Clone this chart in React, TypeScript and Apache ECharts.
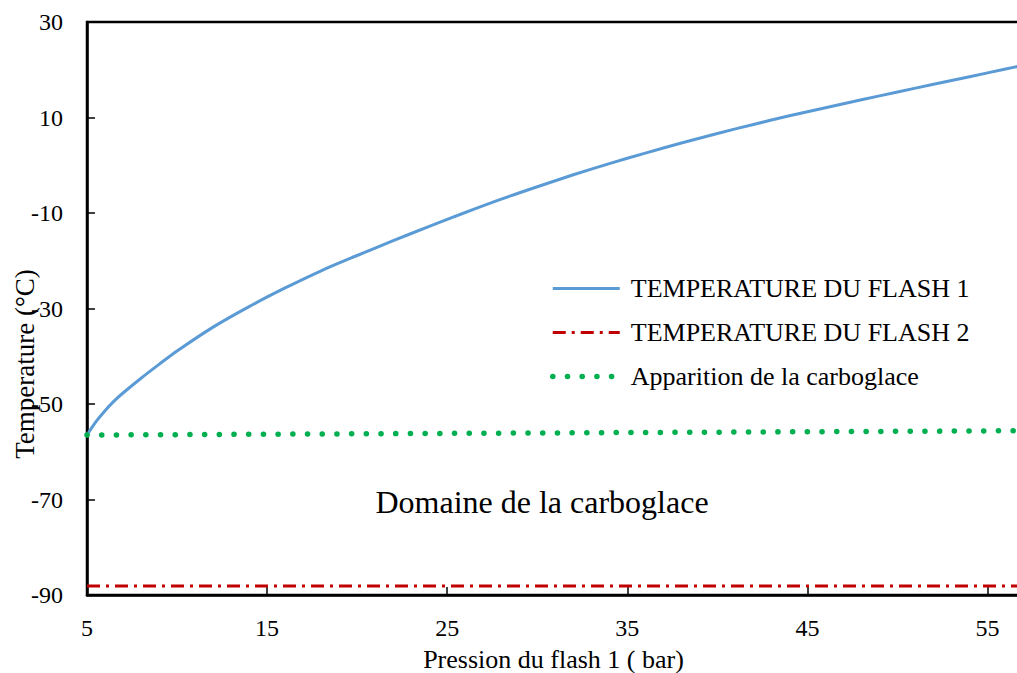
import React, { useEffect, useRef } from "react";
import * as echarts from "echarts";

const pressure1 = [5, 5.5, 6, 6.5, 7, 8, 9, 10, 12, 14, 16, 18, 20, 22, 24, 26, 28, 30, 32, 34, 36, 38, 40, 42, 44, 46, 48, 50, 52, 54, 56, 57];
const tempFlash1 = [-56.5, -53.7, -51.4, -49.4, -47.7, -44.6, -41.7, -38.9, -33.9, -29.6, -25.7, -22.1, -18.9, -15.8, -12.8, -9.9, -7.1, -4.5, -2.0, 0.35, 2.55, 4.65, 6.65, 8.55, 10.35, 12.05, 13.7, 15.35, 16.95, 18.55, 20.15, 20.95];
const pressure2 = [5, 57];
const tempFlash2 = [-88.1, -88.1];
const pressureCarbo = [5, 57];
const tempCarbo = [-56.5, -55.6];

const seriesNames = ["TEMPERATURE DU FLASH 1", "TEMPERATURE DU FLASH 2", "Apparition de la carboglace"];
const xTitle = "Pression du flash 1 ( bar)";
const yTitle = "Temperature (°C)";
const annotation = "Domaine de la carboglace";

const FONT = "'Liberation Serif', 'Times New Roman', serif";
const BLUE = "#5B9BD5";
const RED = "#C00000";
const GREEN = "#00B050";

export default function App() {
  const ref = useRef<HTMLDivElement>(null);
  useEffect(() => {
    if (!ref.current) return;
    const chart = echarts.init(ref.current, null, { renderer: "svg" });
    const zip = (xs: number[], ys: number[]) => xs.map((x, i) => [x, ys[i]]);
    const blueLine = { color: BLUE, width: 3, type: "solid" };
    const redLine = { color: RED, width: 3, type: [13, 6, 3, 6] };
    const greenLine = { color: GREEN, width: 5.5, type: [0.1, 14.6], cap: "round" };
    chart.setOption({
      animation: false,
      backgroundColor: "#ffffff",
      textStyle: { fontFamily: FONT, color: "#000" },
      grid: {
        left: 87,
        top: 22,
        right: -3,
        bottom: 78,
        outerBoundsMode: "none",
        containLabel: false,
        show: true,
        borderColor: "#000",
        borderWidth: 2.5,
      },
      xAxis: {
        type: "value",
        min: 5,
        max: 56.8,
        interval: 10,
        name: xTitle,
        nameLocation: "middle",
        nameGap: 51,
        nameTextStyle: { fontFamily: FONT, fontSize: 26, color: "#000" },
        axisLine: { show: true, onZero: false, lineStyle: { color: "#000", width: 2.5 } },
        axisTick: { show: true, inside: true, length: 8, lineStyle: { color: "#000", width: 1.5 } },
        axisLabel: { fontFamily: FONT, fontSize: 24, color: "#000", margin: 21, showMaxLabel: false },
        splitLine: { show: false },
      },
      yAxis: {
        type: "value",
        min: -90,
        max: 30,
        interval: 20,
        axisLine: { show: true, onZero: false, lineStyle: { color: "#000", width: 2.5 } },
        axisTick: { show: true, inside: true, length: 8, lineStyle: { color: "#000", width: 1.5 } },
        axisLabel: { fontFamily: FONT, fontSize: 24, color: "#000", margin: 24 },
        splitLine: { show: false },
      },
      legend: {
        orient: "vertical",
        left: 550,
        top: 274,
        padding: 0,
        itemWidth: 67,
        itemHeight: 14,
        itemGap: 15,
        itemStyle: { opacity: 0 },
        textStyle: { fontFamily: FONT, fontSize: 26, color: "#000", lineHeight: 29, padding: [0, 0, 0, 6] },
        data: [
          { name: seriesNames[0], lineStyle: blueLine },
          { name: seriesNames[1], lineStyle: redLine },
          { name: seriesNames[2], lineStyle: greenLine },
        ],
      },
      graphic: [
        {
          type: "text",
          x: 25,
          y: 364,
          rotation: Math.PI / 2,
          style: {
            text: yTitle,
            fontFamily: FONT,
            fontSize: 27,
            fill: "#000",
            align: "center",
            verticalAlign: "middle",
          },
        },
        {
          type: "text",
          x: 542,
          y: 502,
          style: {
            text: annotation,
            fontFamily: FONT,
            fontSize: 32,
            fill: "#000",
            align: "center",
            verticalAlign: "middle",
          },
        },
      ],
      series: [
        {
          name: seriesNames[0],
          type: "line",
          data: zip(pressure1, tempFlash1),
          showSymbol: false,
          symbol: "none",
          smooth: 0.3,
          clip: true,
          lineStyle: blueLine,
          itemStyle: { color: BLUE },
        },
        {
          name: seriesNames[1],
          type: "line",
          data: zip(pressure2, tempFlash2),
          showSymbol: false,
          symbol: "none",
          clip: true,
          lineStyle: redLine,
          itemStyle: { color: RED },
        },
        {
          name: seriesNames[2],
          type: "line",
          data: zip(pressureCarbo, tempCarbo),
          showSymbol: false,
          symbol: "none",
          clip: true,
          lineStyle: greenLine,
          itemStyle: { color: GREEN },
        },
      ],
    });
    return () => chart.dispose();
  }, []);
  return (
    <div
      ref={ref}
      style={{ position: "fixed", left: 0, top: 0, width: 1017, height: 673, background: "#fff" }}
    />
  );
}
